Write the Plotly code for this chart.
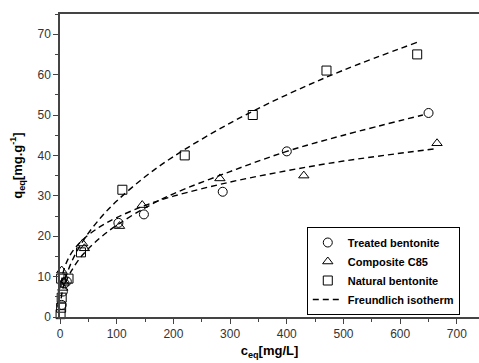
import plotly.graph_objects as go

treated_c = [3, 5, 8, 12, 103, 148, 287, 400, 650]
treated_q = [3.0, 6.3, 8.3, 8.8, 23.3, 25.4, 31.0, 41.0, 50.5]

c85_c = [3, 5, 6, 40, 43, 105, 145, 282, 430, 665]
c85_q = [11.5, 7.2, 8.7, 18.2, 17.0, 22.5, 27.7, 34.3, 35.0, 43.0]

natural_c = [1, 2, 3, 2, 15, 37, 110, 220, 340, 470, 630]
natural_q = [0.7, 2.3, 4.8, 9.5, 9.5, 16.0, 31.5, 40.0, 50.0, 61.0, 65.0]

# --- dashed Freundlich curves ---
fit_treated_c = [10, 20, 40, 70, 100, 150, 200, 300, 400, 500, 640]
fit_treated_q = [8.5, 11.4, 15.4, 19.5, 22.7, 27.0, 30.5, 36.0, 41.0, 45.0, 50.0]

fit_c85_c = [2, 5, 10, 20, 40, 70, 100, 150, 200, 300, 400, 500, 665]
fit_c85_q = [8.3, 10.7, 13.0, 15.8, 19.1, 22.3, 24.6, 27.6, 29.9, 33.4, 36.2, 38.6, 41.7]

fit_nat_c = [2, 5, 10, 20, 40, 70, 100, 150, 200, 300, 400, 500, 630]
fit_nat_q = [4.6, 7.0, 9.7, 13.5, 18.7, 24.3, 28.7, 34.7, 39.7, 48.0, 55.0, 61.1, 68.0]

FONT = "Liberation Sans, Arial, sans-serif"
dash_line = dict(color="black", width=1.4, dash="6px,4px", shape="spline")

fig = go.Figure()
mk = dict(size=9, color="black", line=dict(color="black", width=1))
fig.add_trace(go.Scatter(x=treated_c, y=treated_q, mode="markers", name="Treated bentonite",
                         marker=dict(symbol="circle-open", **mk), cliponaxis=False))
fig.add_trace(go.Scatter(x=c85_c, y=c85_q, mode="markers", name="Composite C85",
                         marker=dict(symbol="triangle-up-open", **mk), cliponaxis=False))
fig.add_trace(go.Scatter(x=natural_c, y=natural_q, mode="markers", name="Natural bentonite",
                         marker=dict(symbol="square-open", **mk), cliponaxis=False))
fig.add_trace(go.Scatter(x=fit_nat_c, y=fit_nat_q, mode="lines", name="Freundlich isotherm",
                         line=dash_line))
fig.add_trace(go.Scatter(x=fit_treated_c, y=fit_treated_q, mode="lines", showlegend=False,
                         line=dash_line))
fig.add_trace(go.Scatter(x=fit_c85_c, y=fit_c85_q, mode="lines", showlegend=False,
                         line=dash_line))

axis_common = dict(
    showline=True, linecolor="#444", linewidth=1.5,
    ticks="outside", ticklen=5, tickwidth=1, tickcolor="#444",
    showgrid=False, zeroline=False,
    tickfont=dict(family=FONT, size=12, color="#333"),
)

fig.update_xaxes(range=[0, 739], dtick=100, tick0=0, mirror=True,
                 minor=dict(dtick=50, ticks="outside", ticklen=3, tickcolor="#444"),
                 title=dict(text="<b>c<sub>eq</sub>[mg/L]</b>", standoff=6,
                            font=dict(family=FONT, size=13, color="black")),
                 **axis_common)
fig.update_yaxes(range=[0, 75], dtick=10, tick0=0,
                 minor=dict(dtick=5, ticks="outside", ticklen=3, tickcolor="#444"),
                 title=dict(text="<b>q<sub>eq</sub>[mg.g<sup>-1</sup>]</b>", standoff=12,
                            font=dict(family=FONT, size=13, color="black")),
                 **axis_common)

fig.update_layout(
    width=479, height=363,
    margin=dict(l=60, r=0, t=14, b=46),
    plot_bgcolor="white", paper_bgcolor="white",
    font=dict(family=FONT),
    legend=dict(x=0.589, y=0.297, xanchor="left", yanchor="top",
                bordercolor="black", borderwidth=1, bgcolor="white",
                font=dict(family=FONT, size=11, color="black", weight="bold"),
                tracegroupgap=0, itemwidth=30),
    showlegend=True,
)

fig.write_html("out.html")
